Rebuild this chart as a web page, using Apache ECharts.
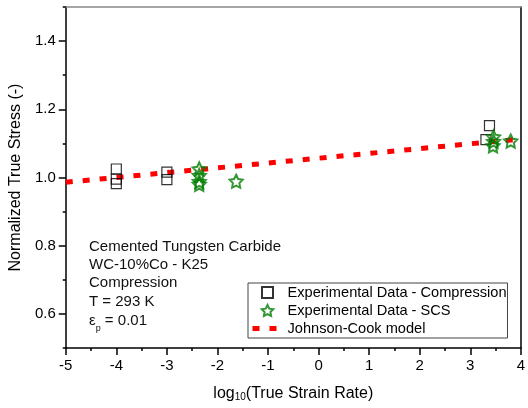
<!DOCTYPE html>
<html>
<head>
<meta charset="utf-8">
<script src="https://cdn.jsdelivr.net/npm/echarts@6/dist/echarts.min.js"></script>
<style>
html,body{margin:0;padding:0;background:#fff;}
#chart{width:528px;height:408px;}
</style>
</head>
<body>
<div id="chart"></div>
<script>
// ---- data ----
var compressionX = [-4, -4, -4, -3, -3, 3.38, 3.31];
var compressionY = [1.025, 0.995, 0.982, 1.016, 0.994, 1.152, 1.111];
var scsX = [-2.36, -2.36, -2.36, -2.36, -1.63, 3.46, 3.46, 3.45, 3.80];
var scsY = [1.025, 1.006, 0.988, 0.980, 0.989, 1.119, 1.106, 1.093, 1.107];
var jcX = [-5, 4];
var jcY = [0.986, 1.113];
var yLabelValues = [0.6, 0.8, 1.0, 1.2, 1.4];
var xTickMin = -5, xTickMax = 4, xTickStep = 1;
var seriesNames = ['Experimental Data - Compression', 'Experimental Data - SCS', 'Johnson-Cook model'];
var noteLines = ['Cemented Tungsten Carbide', 'WC-10%Co - K25', 'Compression', 'T = 293 K'];

function zip(a, b) { return a.map(function (v, i) { return [v, b[i]]; }); }

var FONT = '"Liberation Sans", Arial, sans-serif';
var starPath = 'path://M0,-10 L2.94,-4.05 L9.51,-3.09 L4.76,1.55 L5.88,8.09 L0,5 L-5.88,8.09 L-4.76,1.55 L-9.51,-3.09 L-2.94,-4.05 Z';
var squarePath = 'path://M0,0 L10,0 L10,10 L0,10 Z';
var GREEN = '#007d00';

var chart = echarts.init(document.getElementById('chart'), null, {renderer: 'canvas'});
var option = {
  animation: false,
  backgroundColor: '#fff',
  grid: {left: 63, right: 1, top: 7, bottom: 60, containLabel: false},
  xAxis: [{
    type: 'value', min: xTickMin, max: xTickMax, interval: xTickStep,
    position: 'bottom',
    name: '{a|log}{s|10}{a|(True Strain Rate)}',
    nameLocation: 'middle', nameGap: 34,
    nameTextStyle: {rich: {
      a: {fontFamily: FONT, fontSize: 16, color: '#000', verticalAlign: 'bottom', lineHeight: 20},
      s: {fontFamily: FONT, fontSize: 10, color: '#000', verticalAlign: 'bottom', lineHeight: 12}
    }},
    axisLine: {onZero: false, lineStyle: {color: '#000', width: 1.5}},
    axisTick: {show: true, inside: false, length: 7, lineStyle: {color: '#000', width: 1.5}},
    minorTick: {show: true, splitNumber: 2, length: 3, lineStyle: {color: '#000', width: 1.5}},
    axisLabel: {fontFamily: FONT, fontSize: 15, color: '#000', margin: 10},
    splitLine: {show: false}
  }, {
    type: 'value', min: xTickMin, max: xTickMax, position: 'top',
    axisLine: {show: true, onZero: false, lineStyle: {color: '#888', width: 1.5}},
    axisTick: {show: false}, axisLabel: {show: false}, splitLine: {show: false}
  }],
  yAxis: [{
    type: 'value', min: 0.5, max: 1.5, interval: 0.1,
    position: 'left',
    name: 'Normalized True Stress (-)',
    nameLocation: 'middle', nameGap: 35,
    nameTextStyle: {fontFamily: FONT, fontSize: 16, color: '#000'},
    axisLine: {onZero: false, lineStyle: {color: '#000', width: 1.5}},
    axisTick: {show: true, length: 7, customValues: yLabelValues, lineStyle: {color: '#000', width: 1.5}},
    axisLabel: {fontFamily: FONT, fontSize: 15, color: '#000', margin: 10, customValues: yLabelValues,
      formatter: function (v) { return v.toFixed(1); }},
    splitLine: {show: false}
  }, {
    type: 'value', min: 0.5, max: 1.5, interval: 0.1, position: 'left',
    axisLine: {show: false, onZero: false},
    axisTick: {show: true, length: 3, lineStyle: {color: '#000', width: 1.5}},
    axisLabel: {show: false}, splitLine: {show: false}
  }, {
    type: 'value', min: 0.5, max: 1.5, position: 'right',
    axisLine: {show: true, onZero: false, lineStyle: {color: '#000', width: 1.5}},
    axisTick: {show: false}, axisLabel: {show: false}, splitLine: {show: false}
  }],
  legend: {
    show: true, orient: 'vertical', left: 248, top: 283,
    padding: [2, 1, 2, 2],
    itemWidth: 30, itemHeight: 11, itemGap: 3,
    borderColor: '#444', borderWidth: 1,
    textStyle: {fontFamily: FONT, fontSize: 14.6, color: '#000'},
    data: [
      {name: seriesNames[0], icon: squarePath},
      {name: seriesNames[1]},
      {name: seriesNames[2], itemStyle: {color: 'rgba(0,0,0,0)', borderWidth: 0, opacity: 0},
       lineStyle: {width: 5, type: [7, 10], color: '#ff0000'}}
    ]
  },
  series: [{
    name: seriesNames[2], type: 'line', data: zip(jcX, jcY),
    showSymbol: false, symbol: 'none', z: 1,
    lineStyle: {color: '#ff0000', width: 5, type: [7, 10], cap: 'butt'},
    itemStyle: {color: '#ff0000'}
  }, {
    name: seriesNames[0], type: 'scatter', data: zip(compressionX, compressionY),
    symbol: 'rect', symbolSize: 10, z: 3,
    itemStyle: {color: 'rgba(255,255,255,0)', borderColor: '#000', borderWidth: 1.2}
  }, {
    name: seriesNames[1], type: 'scatter', data: zip(scsX, scsY),
    symbol: starPath, symbolSize: 13, z: 4,
    itemStyle: {color: 'rgba(255,255,255,0)', borderColor: GREEN, borderWidth: 2}
  }],
  graphic: [{
    type: 'group', left: 89, top: 239,
    children: noteLines.map(function (t, i) {
      return {type: 'text', x: 0, y: i * 18.4,
        style: {text: t, fontFamily: FONT, fontSize: 15, fill: '#111'}};
    }).concat([{
      type: 'text', x: 0, y: 4 * 18.4 + 1,
      style: {
        text: '{e|ε}{p|p}{e| = 0.01}',
        rich: {
          e: {fontFamily: FONT, fontSize: 15, fill: '#111', color: '#111', verticalAlign: 'bottom'},
          p: {fontFamily: FONT, fontSize: 9, fill: '#111', color: '#111', verticalAlign: 'bottom', padding: [0,0,-4,0]}
        }
      }
    }])
  }]
};
chart.setOption(option);
</script>
</body>
</html>
